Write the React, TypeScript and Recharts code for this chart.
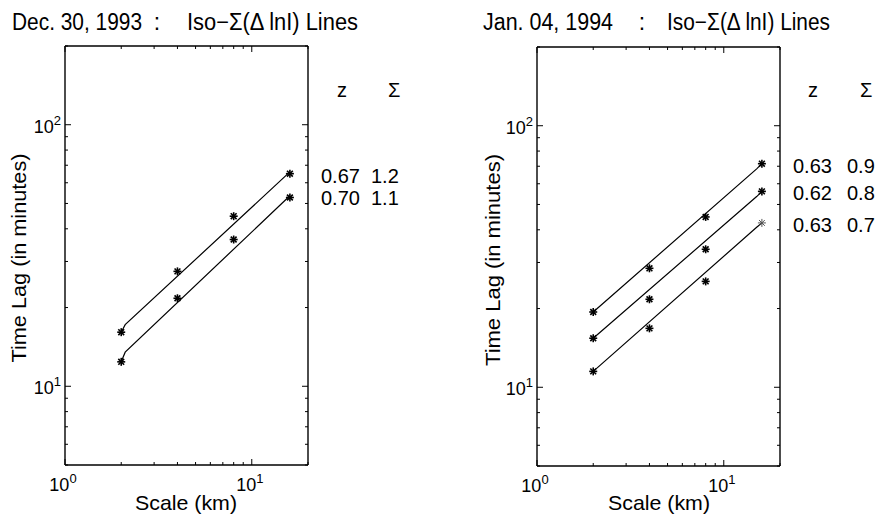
import React from "react";
import { ComposedChart, Line, Scatter, XAxis, YAxis } from "recharts";

// scale (km) at which the time lags were measured
const scales = [2, 4, 8, 16];

// Dec. 30, 1993 measured lags (minutes)
const dec30Upper = [16.1, 27.5, 44.7, 65.0];
const dec30Lower = [12.4, 21.7, 36.4, 52.7];
// fitted iso-sigma lines
const dec30FitX = [2, 2.1, 16];
const dec30UpperFit = [16.1, 17.2, 66.0];
const dec30LowerFit = [12.4, 13.5, 53.5];
const dec30Z = ["0.67", "0.70"];
const dec30Sigma = ["1.2", "1.1"];

// Jan. 04, 1994 measured lags (minutes)
const jan04Top = [19.4, 28.5, 44.8, 71.6];
const jan04Mid = [15.4, 21.7, 33.7, 56.1];
const jan04Low = [11.5, 16.8, 25.4, 42.5];
const jan04FitX = [2, 15, 16];
const jan04TopFit = [19.4, 68.4, 71.6];
const jan04MidFit = [15.4, 53.6, 56.1];
const jan04LowFit = [11.5, 40.9, 42.5];
const jan04Z = ["0.63", "0.62", "0.63"];
const jan04Sigma = ["0.9", "0.8", "0.7"];

const xTicks = [1, 2, 3, 4, 5, 6, 7, 8, 9, 10, 20];
const yTicks = [5, 6, 7, 8, 9, 10, 20, 30, 40, 50, 60, 70, 80, 90, 100, 200];

const FONT = '"Liberation Sans", Arial, Helvetica, sans-serif';

const pts = (xs: number[], ys: number[]) => xs.map((x, i) => ({ x, y: ys[i] }));

const isDecade = (v: number) => Math.abs(Math.log10(v) - Math.round(Math.log10(v))) < 1e-9;

function Pow10({ x, y, v, anchor }: { x: number; y: number; v: number; anchor: "middle" | "end" }) {
  const e = Math.round(Math.log10(v));
  return (
    <text x={x} y={y} textAnchor={anchor} fontFamily={FONT} fontSize={18} fill="#000">
      10
      <tspan fontSize={13} dy={-8}>
        {e}
      </tspan>
    </text>
  );
}

function XTick(props: any) {
  const { x, y, payload, top } = props;
  const v = payload.value;
  const major = isDecade(v);
  const len = major ? 6 : 3;
  return (
    <g>
      <line x1={x} x2={x} y1={y} y2={top ? y + len : y - len} stroke="#000" strokeWidth={1} />
      {!top && major && <Pow10 x={x - 2} y={y + 26} v={v} anchor="middle" />}
    </g>
  );
}

function YTick(props: any) {
  const { x, y, payload, right } = props;
  const v = payload.value;
  const major = isDecade(v);
  const len = major ? 6 : 3;
  return (
    <g>
      <line x1={x} x2={right ? x - len : x + len} y1={y} y2={y} stroke="#000" strokeWidth={1} />
      {!right && major && <Pow10 x={x - 4} y={y + 8} v={v} anchor="end" />}
    </g>
  );
}

function Star(props: any) {
  const { cx, cy, faint } = props;
  if (cx == null || cy == null) return null;
  const r = 4;
  const d = 2.9;
  return (
    <g stroke={faint ? "#555" : "#000"} strokeWidth={faint ? 1 : 1.6}>
      <line x1={cx - r} x2={cx + r} y1={cy} y2={cy} />
      <line x1={cx} x2={cx} y1={cy - r} y2={cy + r} />
      <line x1={cx - d} x2={cx + d} y1={cy - d} y2={cy + d} />
      <line x1={cx - d} x2={cx + d} y1={cy + d} y2={cy - d} />
    </g>
  );
}

type Panel = {
  left: number;
  margin: { top: number; right: number; bottom: number; left: number };
  marks: number[][];
  fitX: number[];
  fits: number[][];
  faintLast?: number;
};

const boxLine = { stroke: "#000", strokeWidth: 1.4 };

// axes are 1px thick so they still render; margins are reduced by that pixel
function LagPanel({ left, margin, marks, fitX, fits, faintLast }: Panel) {
  const m = { top: margin.top - 1, right: margin.right - 1, bottom: margin.bottom - 1, left: margin.left - 1 };
  return (
    <div style={{ position: "absolute", left, top: 0 }}>
      <ComposedChart width={438} height={521} margin={m}>
        <XAxis
          xAxisId="b"
          dataKey="x"
          type="number"
          scale="log"
          domain={[1, 20]}
          allowDataOverflow
          ticks={xTicks}
          interval={0}
          height={1}
          tickSize={0}
          tickMargin={0}
          tickLine={false}
          axisLine={boxLine}
          tick={(p: any) => <XTick {...p} />}
        />
        <XAxis
          xAxisId="t"
          orientation="top"
          dataKey="x"
          type="number"
          scale="log"
          domain={[1, 20]}
          allowDataOverflow
          ticks={xTicks}
          interval={0}
          height={1}
          tickSize={0}
          tickMargin={0}
          tickLine={false}
          axisLine={boxLine}
          tick={(p: any) => <XTick {...p} top />}
        />
        <YAxis
          yAxisId="l"
          dataKey="y"
          type="number"
          scale="log"
          domain={[5, 200]}
          allowDataOverflow
          ticks={yTicks}
          interval={0}
          width={1}
          tickSize={0}
          tickMargin={0}
          tickLine={false}
          axisLine={boxLine}
          tick={(p: any) => <YTick {...p} />}
        />
        <YAxis
          yAxisId="r"
          orientation="right"
          dataKey="y"
          type="number"
          scale="log"
          domain={[5, 200]}
          allowDataOverflow
          ticks={yTicks}
          interval={0}
          width={1}
          tickSize={0}
          tickMargin={0}
          tickLine={false}
          axisLine={boxLine}
          tick={(p: any) => <YTick {...p} right />}
        />
        {fits.map((f, i) => (
          <Line
            key={"fit" + i}
            xAxisId="b"
            yAxisId="l"
            data={pts(fitX, f)}
            dataKey="y"
            type="linear"
            stroke="#000"
            strokeWidth={1.2}
            dot={false}
            isAnimationActive={false}
          />
        ))}
        {marks.map((mk, i) => (
          <Scatter
            key={"mk" + i}
            xAxisId="b"
            yAxisId="l"
            data={pts(scales, mk)}
            dataKey="y"
            isAnimationActive={false}
            shape={(p: any) => <Star {...p} faint={faintLast === i && p.payload && p.payload.x === 16} />}
          />
        ))}
      </ComposedChart>
    </div>
  );
}

function Annotations() {
  const t = { fontFamily: FONT, fill: "#000" };
  return (
    <svg width={876} height={521} style={{ position: "absolute", left: 0, top: 0, pointerEvents: "none" }}>
      {/* titles */}
      <text {...t} fontSize={23} x={12} y={30} textLength={130} lengthAdjust="spacingAndGlyphs">Dec. 30, 1993</text>
      <text {...t} fontSize={23} x={157} y={30} textAnchor="middle">:</text>
      <text {...t} fontSize={23} x={187} y={30} textLength={171} lengthAdjust="spacingAndGlyphs">Iso−Σ(Δ lnI) Lines</text>
      <text {...t} fontSize={23} x={483} y={30} textLength={130} lengthAdjust="spacingAndGlyphs">Jan. 04, 1994</text>
      <text {...t} fontSize={23} x={642} y={30} textAnchor="middle">:</text>
      <text {...t} fontSize={23} x={667} y={30} textLength={163} lengthAdjust="spacingAndGlyphs">Iso−Σ(Δ lnI) Lines</text>

      {/* axis labels */}
      <text {...t} fontSize={21} x={186} y={510} textAnchor="middle" textLength={102} lengthAdjust="spacingAndGlyphs">Scale (km)</text>
      <text {...t} fontSize={21} x={659} y={510} textAnchor="middle" textLength={102} lengthAdjust="spacingAndGlyphs">Scale (km)</text>
      <text {...t} fontSize={21} textAnchor="middle" transform="translate(26,258) rotate(-90)" textLength={209} lengthAdjust="spacingAndGlyphs">Time Lag (in minutes)</text>
      <text {...t} fontSize={21} textAnchor="middle" transform="translate(500,260) rotate(-90)" textLength={212} lengthAdjust="spacingAndGlyphs">Time Lag (in minutes)</text>

      {/* z / sigma tables */}
      <text {...t} fontSize={20} x={337} y={97}>z</text>
      <text {...t} fontSize={20} x={388} y={97}>Σ</text>
      {dec30Z.map((z, i) => (
        <g key={"d" + i}>
          <text {...t} fontSize={20} x={321} y={[183, 205][i]}>{z}</text>
          <text {...t} fontSize={20} x={371} y={[183, 205][i]}>{dec30Sigma[i]}</text>
        </g>
      ))}
      <text {...t} fontSize={20} x={808} y={97}>z</text>
      <text {...t} fontSize={20} x={860} y={97}>Σ</text>
      {jan04Z.map((z, i) => (
        <g key={"j" + i}>
          <text {...t} fontSize={20} x={793} y={[173, 200, 232][i]}>{z}</text>
          <text {...t} fontSize={20} x={847} y={[173, 200, 232][i]}>{jan04Sigma[i]}</text>
        </g>
      ))}
    </svg>
  );
}

export default function App() {
  return (
    <div style={{ position: "absolute", left: 0, top: 0, width: 876, height: 521, background: "#fff", overflow: "hidden" }}>
      <LagPanel
        left={0}
        margin={{ top: 46, right: 130, bottom: 56, left: 65 }}
        marks={[dec30Upper, dec30Lower]}
        fitX={dec30FitX}
        fits={[dec30UpperFit, dec30LowerFit]}
      />
      <LagPanel
        left={438}
        margin={{ top: 47, right: 96, bottom: 55, left: 99 }}
        marks={[jan04Top, jan04Mid, jan04Low]}
        fitX={jan04FitX}
        fits={[jan04TopFit, jan04MidFit, jan04LowFit]}
        faintLast={2}
      />
      <Annotations />
    </div>
  );
}
